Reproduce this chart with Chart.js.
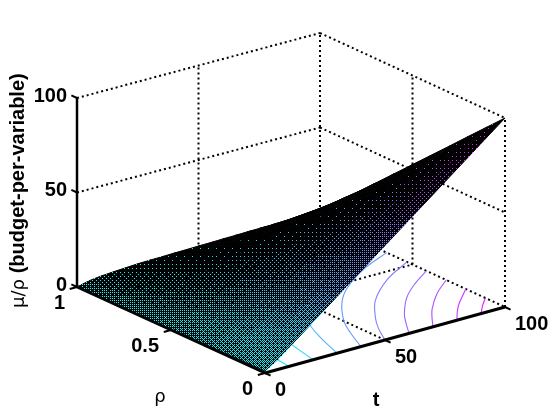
<!DOCTYPE html>
<html lang="en">
  <head>
    <meta charset="UTF-8" />
    <title>Budget per variable surface</title>
    <script src="https://cdnjs.cloudflare.com/ajax/libs/Chart.js/4.4.1/chart.umd.min.js"></script>
    <style>
      body {
        margin: 0;
        background: white;
      }
      canvas {
        display: block;
      }
    </style>
  </head>
  <body>
    <canvas id="surface-chart" width="560" height="420"></canvas>

    <script>
      // Values
      const tValues = [0, 5, 10, 15, 20, 25, 30, 35, 40, 45, 50, 55, 60, 65, 70, 75, 80, 85, 90, 95, 100];
      const rhoValues = [0, 0.1, 0.2, 0.3, 0.4, 0.5, 0.6, 0.7, 0.8, 0.9, 1];
      // one row per rho, one column per t
      const zRows = [
        [1.0, 5, 10, 15, 20, 25, 30, 35, 40, 45, 50, 55, 60, 65, 70, 75, 80, 85, 90, 95, 100],
        [0.9, 4.7, 9.2, 13.8, 18.3, 22.9, 27.4, 31.9, 36.4, 40.9, 45.5, 50.0, 54.5, 59.0, 63.5, 68.0, 72.5, 77.0, 81.6, 86.1, 90.6],
        [0.8, 4.3, 8.5, 12.6, 16.7, 20.7, 24.8, 28.8, 32.8, 36.9, 40.9, 44.9, 49.0, 53.0, 57.0, 61.0, 65.1, 69.1, 73.1, 77.1, 81.2],
        [0.7, 4.0, 7.7, 11.4, 15.0, 18.6, 22.2, 25.7, 29.3, 32.8, 36.4, 39.9, 43.4, 47.0, 50.5, 54.1, 57.6, 61.1, 64.7, 68.2, 71.7],
        [0.6, 3.6, 7.0, 10.2, 13.3, 16.5, 19.6, 22.6, 25.7, 28.7, 31.8, 34.8, 37.9, 41.0, 44.0, 47.1, 50.1, 53.2, 56.2, 59.3, 62.3],
        [0.5, 3.3, 6.2, 9.0, 11.7, 14.4, 17.0, 19.5, 22.1, 24.7, 27.3, 29.8, 32.4, 35.0, 37.6, 40.1, 42.7, 45.2, 47.8, 50.4, 52.9],
        [0.4, 3.0, 5.4, 7.7, 10.0, 12.2, 14.3, 16.4, 18.5, 20.6, 22.7, 24.8, 26.9, 28.9, 31.1, 33.1, 35.2, 37.2, 39.3, 41.4, 43.5],
        [0.3, 2.6, 4.7, 6.5, 8.3, 10.1, 11.7, 13.3, 14.9, 16.5, 18.2, 19.7, 21.4, 22.9, 24.6, 26.1, 27.7, 29.3, 30.9, 32.5, 34.1],
        [0.2, 2.3, 3.9, 5.3, 6.6, 8.0, 9.1, 10.2, 11.4, 12.4, 13.6, 14.7, 15.8, 16.9, 18.1, 19.2, 20.2, 21.3, 22.4, 23.6, 24.6],
        [0.1, 1.9, 3.2, 4.1, 5.0, 5.8, 6.5, 7.1, 7.8, 8.4, 9.1, 9.6, 10.3, 10.9, 11.6, 12.2, 12.8, 13.4, 14.0, 14.6, 15.2],
        [0, 1.6, 2.4, 2.9, 3.3, 3.7, 3.9, 4.0, 4.2, 4.3, 4.5, 4.6, 4.8, 4.9, 5.1, 5.2, 5.3, 5.4, 5.5, 5.7, 5.8],
      ];

      // Contours on the floor, [t, rho] pairs
      const contourLevels = [10, 20, 30, 40, 50, 60, 70, 80, 90];
      const contourPaths = [
        [[10, 0], [15, 0.41], [20, 0.6], [30, 0.77], [50, 0.88], [100, 0.955]],
        [[20, 0], [25, 0.235], [30, 0.38], [40, 0.56], [60, 0.72], [100, 0.85]],
        [[30, 0], [35, 0.16], [40, 0.28], [50, 0.44], [70, 0.62], [100, 0.74]],
        [[40, 0], [45, 0.12], [50, 0.22], [60, 0.36], [70, 0.46], [85, 0.565], [100, 0.64]],
        [[50, 0], [55, 0.1], [60, 0.18], [70, 0.31], [85, 0.44], [100, 0.53]],
        [[60, 0], [65, 0.08], [70, 0.154], [80, 0.27], [90, 0.355], [100, 0.425]],
        [[70, 0], [75, 0.07], [80, 0.134], [90, 0.237], [100, 0.318]],
        [[80, 0], [85, 0.063], [90, 0.118], [100, 0.212]],
        [[90, 0], [95, 0.056], [100, 0.106]],
      ];

      const tTicks = [0, 50, 100];
      const rhoTicks = [0, 0.5, 1];
      const zTicks = [0, 50, 100];

      // The view: where the box corners land on the page
      function project(t, rho, z) {
        const u = t / 100;
        return {
          x: 265 + 240 * u - 188 * rho + 3 * u * rho,
          y: 373 - 66 * u - 86 * rho + 1 * u * rho - 1.89 * z,
        };
      }

      // matlab "cool" colormap
      function coolColor(z) {
        const k = Math.max(0, Math.min(1, z / 100));
        return [Math.round(255 * k), Math.round(255 * (1 - k)), 255];
      }

      // 8x8 ordered dither stands in for the fine black mesh over the faces
      const bayer = [
        0, 32, 8, 40, 2, 34, 10, 42,
        48, 16, 56, 24, 50, 18, 58, 26,
        12, 44, 4, 36, 14, 46, 6, 38,
        60, 28, 52, 20, 62, 30, 54, 22,
        3, 35, 11, 43, 1, 33, 9, 41,
        51, 19, 59, 27, 49, 17, 57, 25,
        15, 47, 7, 39, 13, 45, 5, 37,
        63, 31, 55, 23, 61, 29, 53, 21,
      ];
      const patternCache = {};
      function meshPattern(level, rgb) {
        const key = level + ":" + rgb.join(",");
        if (patternCache[key]) return patternCache[key];
        const tile = document.createElement("canvas");
        tile.width = 8;
        tile.height = 8;
        const tileCtx = tile.getContext("2d");
        const img = tileCtx.createImageData(8, 8);
        for (let i = 0; i < 64; i++) {
          const lit = bayer[i] < level;
          img.data[i * 4] = lit ? rgb[0] : 0;
          img.data[i * 4 + 1] = lit ? rgb[1] : 0;
          img.data[i * 4 + 2] = lit ? rgb[2] : 0;
          img.data[i * 4 + 3] = 255;
        }
        tileCtx.putImageData(img, 0, 0);
        patternCache[key] = tileCtx.createPattern(tile, "repeat");
        return patternCache[key];
      }

      function line3d(points, color, width, dash, tension) {
        return {
          showLine: true,
          data: points.map((p) => project(p[0], p[1], p[2])),
          borderColor: color,
          borderWidth: width,
          borderDash: dash || [],
          tension: tension || 0,
          pointRadius: 0,
          fill: false,
        };
      }

      function quadArea(q) {
        let a = 0;
        for (let i = 0; i < 4; i++) {
          a += q[i].x * q[i + 1].y - q[i + 1].x * q[i].y;
        }
        return Math.abs(a) / 2;
      }

      // Build in paint order, back to front
      const paintOrder = [];

      // Dotted box
      const dotted = [2, 3];
      const dotWidth = 2;
      zTicks.forEach((z) => {
        paintOrder.push(line3d([[0, 1, z], [100, 1, z]], "#000", dotWidth, dotted));
        paintOrder.push(line3d([[100, 1, z], [100, 0, z]], "#000", dotWidth, dotted));
      });
      paintOrder.push(line3d([[50, 1, 0], [50, 1, 100]], "#000", dotWidth, dotted));
      paintOrder.push(line3d([[100, 1, 0], [100, 1, 100]], "#000", dotWidth, dotted));
      paintOrder.push(line3d([[100, 0.5, 0], [100, 0.5, 100]], "#000", dotWidth, dotted));
      paintOrder.push(line3d([[100, 0, 0], [100, 0, 100]], "#000", dotWidth, dotted));
      paintOrder.push(line3d([[50, 0, 0], [50, 1, 0]], "#000", dotWidth, dotted));
      paintOrder.push(line3d([[0, 0.5, 0], [100, 0.5, 0]], "#000", dotWidth, dotted));

      // Floor contours
      contourLevels.forEach((level, i) => {
        const rgb = coolColor(level);
        paintOrder.push(
          line3d(
            contourPaths[i].map((p) => [p[0], p[1], 0]),
            "rgb(" + rgb.join(",") + ")",
            1.1,
            null,
            0.35
          )
        );
      });

      // Surface faces, far corner first
      const frontCell = [
        project(tValues[0], rhoValues[0], zRows[0][0]),
        project(tValues[1], rhoValues[0], zRows[0][1]),
        project(tValues[1], rhoValues[1], zRows[1][1]),
        project(tValues[0], rhoValues[1], zRows[1][0]),
      ];
      frontCell.push(frontCell[0]);
      const refArea = quadArea(frontCell);
      for (let r = rhoValues.length - 2; r >= 0; r--) {
        for (let c = tValues.length - 2; c >= 0; c--) {
          const quad = [
            project(tValues[c], rhoValues[r], zRows[r][c]),
            project(tValues[c + 1], rhoValues[r], zRows[r][c + 1]),
            project(tValues[c + 1], rhoValues[r + 1], zRows[r + 1][c + 1]),
            project(tValues[c], rhoValues[r + 1], zRows[r + 1][c]),
          ];
          quad.push(quad[0]);
          const meanZ = (zRows[r][c] + zRows[r][c + 1] + zRows[r + 1][c] + zRows[r + 1][c + 1]) / 4;
          const ratio = Math.min(1, quadArea(quad) / refArea);
          const cover = 0.42 * Math.pow(Math.max(0, (ratio - 0.1) / 0.9), 2.3);
          const pattern = meshPattern(Math.round(cover * 64), coolColor(Math.round(meanZ / 4) * 4));
          paintOrder.push({
            showLine: true,
            data: quad,
            borderColor: pattern,
            borderWidth: 1,
            backgroundColor: pattern,
            fill: "shape",
            pointRadius: 0,
            tension: 0,
          });
        }
      }

      // Rim of the surface on the t=0 side
      paintOrder.push(
        line3d(rhoValues.map((rho, r) => [0, rho, zRows[r][0]]), "#000", 1)
      );

      // Solid axes and their ticks
      paintOrder.push(line3d([[0, 1, 0], [0, 1, 100]], "#000", 2.5));
      paintOrder.push(line3d([[0, 1, 0], [0, 0, 0]], "#000", 2.5));
      paintOrder.push(line3d([[0, 0, 0], [100, 0, 0]], "#000", 3));
      zTicks.forEach((z) => {
        paintOrder.push(line3d([[0, 1, z], [0, 1.03, z]], "#000", 2));
      });
      tTicks.forEach((t) => {
        paintOrder.push(line3d([[t, 0, 0], [t, -0.03, 0]], "#000", 2));
      });
      rhoTicks.forEach((rho) => {
        paintOrder.push(line3d([[0, rho, 0], [-3, rho, 0]], "#000", 2));
      });

      // Tick labels and axis titles sit on the projected axes
      const boxLabels = {
        id: "boxLabels",
        afterDatasetsDraw(chart) {
          const { ctx, scales } = chart;
          const at = (t, rho, z) => {
            const p = project(t, rho, z);
            return {
              x: scales.x.getPixelForValue(p.x),
              y: scales.y.getPixelForValue(p.y),
            };
          };
          ctx.save();
          ctx.fillStyle = "#000";
          ctx.textBaseline = "middle";
          ctx.font = "bold 20px 'Liberation Sans'";

          ctx.textAlign = "right";
          zTicks.forEach((z) => {
            const p = at(0, 1, z);
            ctx.fillText(String(z), p.x - 10, p.y - 2);
          });
          rhoTicks.forEach((rho) => {
            const p = at(0, rho, 0);
            ctx.fillText(String(rho), p.x - 12, p.y + 16);
          });
          ctx.textAlign = "left";
          tTicks.forEach((t) => {
            const p = at(t, 0, 0);
            ctx.fillText(String(t), p.x + 10, p.y + 17);
          });

          ctx.textAlign = "center";
          ctx.fillText("t", 376, 400);
          ctx.font = "18px 'DejaVu Sans'";
          ctx.fillText("ρ", 160, 397);

          ctx.translate(24, 308);
          ctx.rotate(-Math.PI / 2);
          ctx.textAlign = "left";
          ctx.textBaseline = "alphabetic";
          ctx.font = "18px 'DejaVu Sans'";
          ctx.fillText("μ/ρ", 0, 0);
          const lead = ctx.measureText("μ/ρ ").width;
          ctx.font = "bold 20px 'Liberation Sans'";
          ctx.fillText("(budget-per-variable)", lead, 0);
          ctx.restore();
        },
      };

      new Chart(document.getElementById("surface-chart"), {
        type: "scatter",
        data: { datasets: paintOrder.reverse() },
        plugins: [boxLabels],
        options: {
          responsive: false,
          animation: false,
          events: [],
          layout: { padding: 0 },
          plugins: {
            legend: { display: false },
            tooltip: { enabled: false },
          },
          scales: {
            x: { type: "linear", display: false, min: 0, max: 560 },
            y: { type: "linear", display: false, min: 0, max: 420, reverse: true },
          },
        },
      });
    </script>
  </body>
</html>
